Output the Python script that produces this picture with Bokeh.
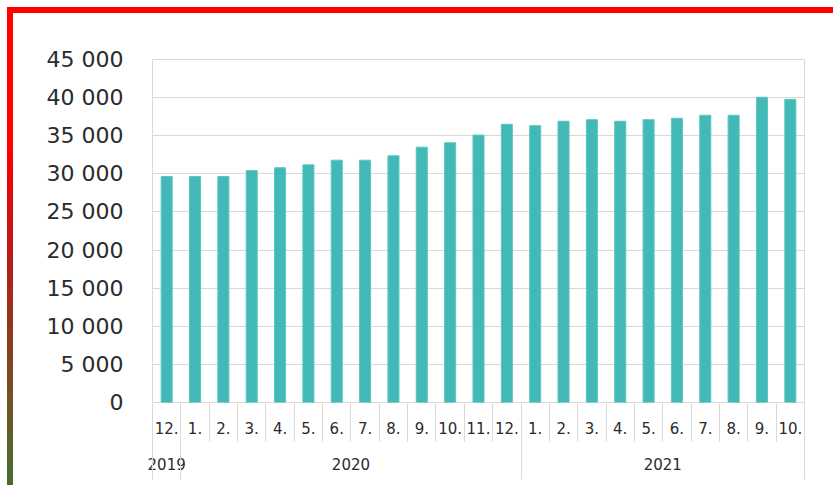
from bokeh.plotting import figure
from bokeh.models import Range1d, FixedTicker, LinearAxis, AllLabels
from bokeh.embed import file_html
from bokeh.resources import INLINE

# ---- data ----
months = ["12.", "1.", "2.", "3.", "4.", "5.", "6.", "7.", "8.", "9.", "10.", "11.", "12.",
          "1.", "2.", "3.", "4.", "5.", "6.", "7.", "8.", "9.", "10."]
values = [29650, 29650, 29650, 30430, 30800, 31180, 31790, 31790, 32370, 33500, 34080, 35080, 36500,
          36320, 36900, 37100, 36900, 37100, 37290, 37680, 37680, 40050, 39780]
years = ["2019", "2020", "2021"]
year_counts = [1, 12, 10]
y_ticks = [0, 5000, 10000, 15000, 20000, 25000, 30000, 35000, 40000, 45000]

n = len(months)
centers = [i + 0.5 for i in range(n)]
bounds = [float(i) for i in range(n + 1)]

year_bounds = [0.0]
for c in year_counts:
    year_bounds.append(year_bounds[-1] + c)
year_centers = [(year_bounds[i] + year_bounds[i + 1]) / 2 for i in range(len(years))]

FONT = "DejaVu Sans"
TXT = "#2b2b2b"
GRID = "#d9d9d9"

p = figure(width=833, height=485, output_backend="svg", toolbar_location=None,
           x_range=Range1d(0, n), y_range=Range1d(0, 45000),
           min_border_left=152, min_border_right=29, min_border_top=59, min_border_bottom=83,
           x_axis_type=None)

p.border_fill_color = None
p.background_fill_color = "white"
p.outline_line_color = GRID
p.outline_line_width = 1
p.styles = {
    "background-image": "linear-gradient(#ff0000, #ff0000), "
                        "linear-gradient(to bottom, #ff0000 0%, #ff0000 28%, #c41414 48%, "
                        "#8a3c1c 68%, #6a5826 84%, #4e6a2e 95%, #4e6a2e 100%)",
    "background-size": "100% 6px, 6px 100%",
    "background-position": "7px 7px, 7px 7px",
    "background-repeat": "no-repeat",
}

p.vbar(x=centers, top=values, width=0.39, fill_color="#42b8b7", line_color="#5cc6c4", line_width=1)

# grid
p.xgrid.grid_line_color = None
p.ygrid.grid_line_color = GRID
p.ygrid.grid_line_width = 1

# y axis
ya = p.yaxis[0]
ya.ticker = FixedTicker(ticks=y_ticks)
ya.major_label_overrides = {t: f"{t:,}".replace(",", " ") for t in y_ticks}
ya.axis_line_color = None
ya.major_tick_line_color = None
ya.minor_tick_line_color = None
ya.major_tick_out = 0
ya.major_tick_in = 0
ya.major_label_standoff = 29
ya.major_label_text_font = FONT
ya.major_label_text_font_size = "22px"
ya.major_label_text_color = TXT


def base_axis(ticker):
    ax = LinearAxis(ticker=ticker)
    ax.major_label_policy = AllLabels()
    ax.axis_line_color = None
    ax.major_tick_line_color = None
    ax.minor_tick_line_color = None
    ax.major_tick_out = 0
    ax.major_tick_in = 0
    ax.minor_tick_out = 0
    ax.minor_tick_in = 0
    ax.major_label_text_font = FONT
    ax.major_label_text_font_size = "15px"
    ax.major_label_text_color = TXT
    return ax


# month labels
ma = base_axis(FixedTicker(ticks=centers))
ma.major_label_overrides = {c: m for c, m in zip(centers, months)}
ma.major_label_standoff = 19
p.add_layout(ma, "below")

# year labels + month separators
ya2 = base_axis(FixedTicker(ticks=year_centers, minor_ticks=bounds))
ya2.major_label_overrides = {c: y for c, y in zip(year_centers, years)}
ya2.minor_tick_line_color = GRID
ya2.minor_tick_in = 33
ya2.minor_tick_out = 5
ya2.major_label_standoff = 16
p.add_layout(ya2, "below")

# year separators
sa = base_axis(FixedTicker(ticks=year_bounds))
sa.major_label_overrides = {b: "" for b in year_bounds}
sa.major_label_text_font_size = "0px"
sa.major_label_standoff = 0
sa.major_tick_line_color = GRID
sa.major_tick_in = 69
sa.major_tick_out = 7
p.add_layout(sa, "below")

open("out.html", "w").write(file_html(p, INLINE))
